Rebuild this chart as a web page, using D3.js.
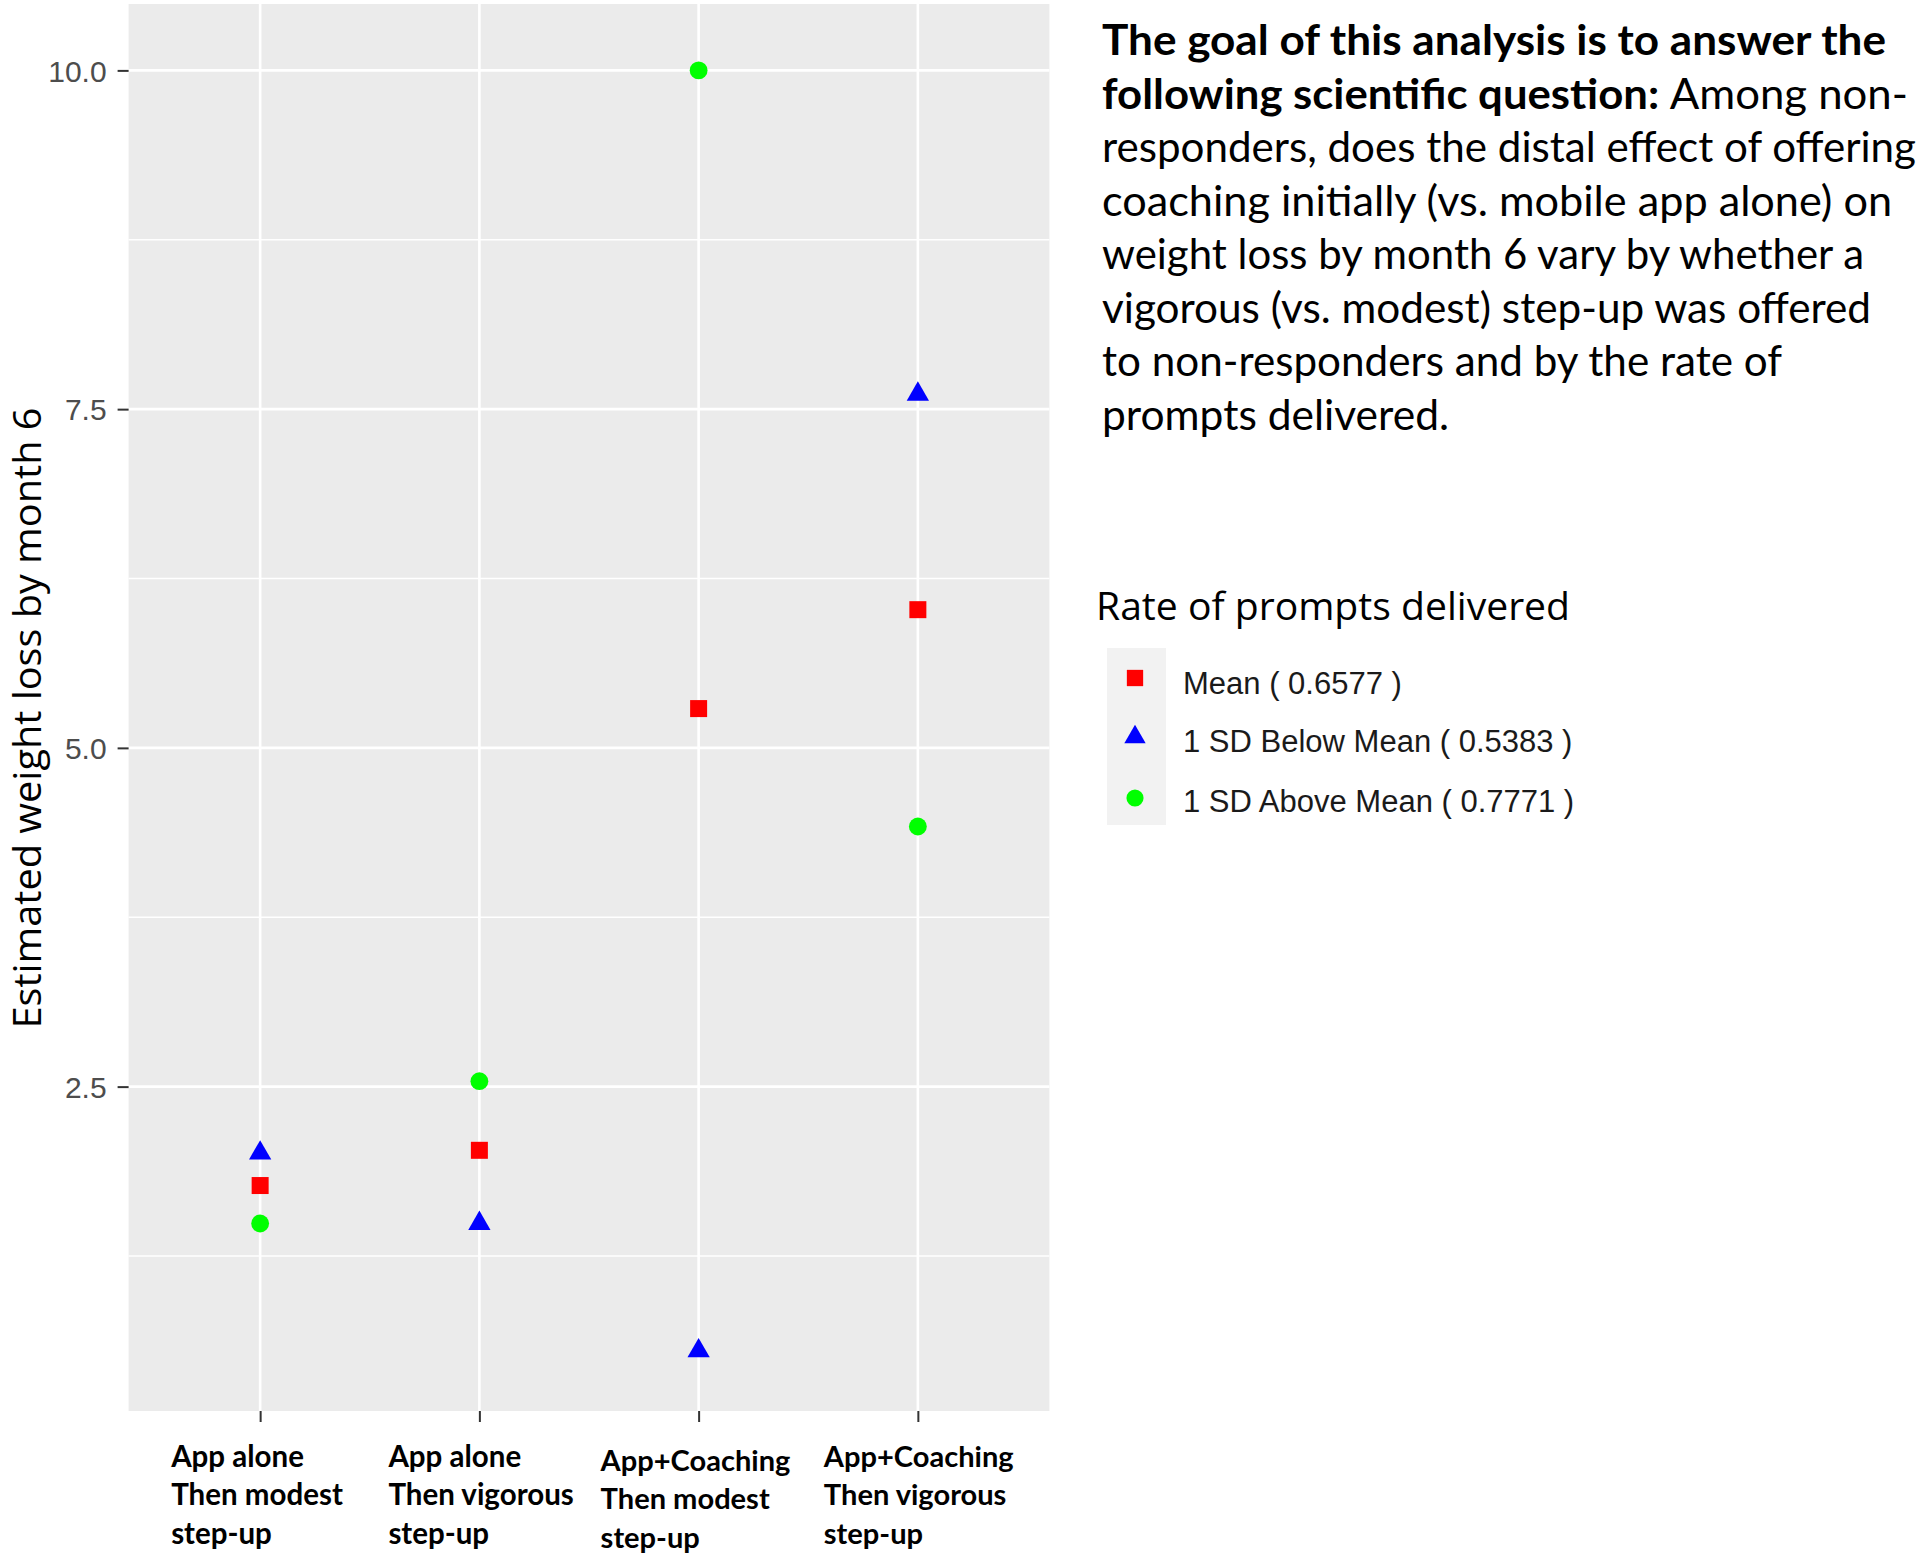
<!DOCTYPE html>
<html>
<head>
<meta charset="utf-8">
<script src="https://cdn.jsdelivr.net/npm/d3@7"></script>
<style>
  html, body { margin: 0; padding: 0; background: #ffffff; }
  svg { display: block; }
</style>
</head>
<body>
<svg id="chart" width="1920" height="1555"></svg>
<script>
// ---------------- DATA ----------------
const categories = ["A_mod", "A_vig", "C_mod", "C_vig"];
const categoryLabels = [
  ["App alone", "Then modest", "step-up"],
  ["App alone", "Then vigorous", "step-up"],
  ["App+Coaching", "Then modest", "step-up"],
  ["App+Coaching", "Then vigorous", "step-up"]
];
const seriesNames = ["Mean ( 0.6577 )", "1 SD Below Mean ( 0.5383 )", "1 SD Above Mean ( 0.7771 )"];
const meanValues  = [1.77, 2.03, 5.29, 6.02];
const belowValues = [2.01, 1.49, 0.55, 7.61];
const aboveValues = [1.49, 2.54, 10.00, 4.42];
const yTicks = [2.5, 5.0, 7.5, 10.0];
const yMinorTicks = [1.25, 3.75, 6.25, 8.75];
const yTitle = "Estimated weight loss by month 6";
const legendTitle = "Rate of prompts delivered";
const paragraphLines = [
  [{t: "The goal of this analysis is to answer the", b: true}],
  [{t: "following scientific question: ", b: true}, {t: "Among non-", b: false}],
  [{t: "responders, does the distal effect of offering", b: false}],
  [{t: "coaching initially (vs. mobile app alone) on", b: false}],
  [{t: "weight loss by month 6 vary by whether a", b: false}],
  [{t: "vigorous (vs. modest) step-up was offered", b: false}],
  [{t: "to non-responders and by the rate of", b: false}],
  [{t: "prompts delivered.", b: false}]
];

// ---------------- STYLE / LAYOUT ----------------
const series = [
  {name: seriesNames[0], values: meanValues,  color: "#FF0000", shape: d3.symbolSquare,   size: 289},
  {name: seriesNames[1], values: belowValues, color: "#0000FF", shape: d3.symbolTriangle, size: 215},
  {name: seriesNames[2], values: aboveValues, color: "#00FF00", shape: d3.symbolCircle,   size: 250}
];
const panel = {x0: 128.6, x1: 1049.4, y0: 4, y1: 1411};
const svg = d3.select("#chart");

const x = d3.scalePoint().domain(categories).range([panel.x0, panel.x1]).padding(0.6);
const y = d3.scaleLinear().domain([0.106, 10.49]).range([panel.y1, panel.y0]);

// panel background
svg.append("rect")
  .attr("x", panel.x0).attr("y", panel.y0)
  .attr("width", panel.x1 - panel.x0).attr("height", panel.y1 - panel.y0)
  .attr("fill", "#EBEBEB");

// minor grid
svg.append("g").selectAll("line").data(yMinorTicks).join("line")
  .attr("x1", panel.x0).attr("x2", panel.x1)
  .attr("y1", d => y(d)).attr("y2", d => y(d))
  .attr("stroke", "#FFFFFF").attr("stroke-width", 1.3);
// major grid
svg.append("g").selectAll("line").data(yTicks).join("line")
  .attr("x1", panel.x0).attr("x2", panel.x1)
  .attr("y1", d => y(d)).attr("y2", d => y(d))
  .attr("stroke", "#FFFFFF").attr("stroke-width", 2.6);
svg.append("g").selectAll("line").data(categories).join("line")
  .attr("x1", d => x(d)).attr("x2", d => x(d))
  .attr("y1", panel.y0).attr("y2", panel.y1)
  .attr("stroke", "#FFFFFF").attr("stroke-width", 2.6);

// y axis
const yAxis = svg.append("g")
  .attr("transform", `translate(${panel.x0},0)`)
  .call(d3.axisLeft(y).tickValues(yTicks).tickFormat(d3.format(".1f")).tickSize(11).tickPadding(11));
yAxis.select(".domain").remove();
yAxis.selectAll(".tick line").attr("stroke", "#333333").attr("stroke-width", 2);
yAxis.selectAll(".tick text")
  .attr("fill", "#4D4D4D")
  .attr("dy", "0.36em")
  .style("font-family", "'Liberation Sans', Arial, sans-serif")
  .style("font-size", "30px");

// x axis
const xAxis = svg.append("g")
  .attr("transform", `translate(0,${panel.y1})`)
  .call(d3.axisBottom(x).tickSize(11).tickFormat(""));
xAxis.select(".domain").remove();
xAxis.selectAll(".tick line").attr("stroke", "#333333").attr("stroke-width", 2);

// x category labels (multi-line, left aligned, bold)
const labelOffsets = [-89, -91, -98, -94];
const labelBaseY = [1467, 1467, 1471, 1467];
const labelWidthScale = [1, 1, 0.985, 0.985];
categories.forEach((c, i) => {
  const t = svg.append("text")
    .attr("x", x(c) + labelOffsets[i])
    .attr("y", labelBaseY[i])
    .style("font-family", "Lato, sans-serif")
    .style("font-weight", "bold")
    .style("font-size", (29.5 * labelWidthScale[i]) + "px")
    .attr("fill", "#000000");
  categoryLabels[i].forEach((ln, j) => {
    t.append("tspan").attr("x", x(c) + labelOffsets[i]).attr("y", labelBaseY[i] + j * 38.3).text(ln);
  });
});

// y title
svg.append("text")
  .attr("transform", `translate(41,718) rotate(-90)`)
  .attr("text-anchor", "middle")
  .style("font-family", "'Open Sans', sans-serif")
  .style("font-size", "39px")
  .attr("fill", "#000000")
  .attr("textLength", 621)
  .attr("lengthAdjust", "spacingAndGlyphs")
  .text(yTitle);

// points
series.forEach(s => {
  svg.append("g").selectAll("path").data(s.values).join("path")
    .attr("transform", (d, i) => `translate(${x(categories[i])},${y(d)})`)
    .attr("d", d3.symbol().type(s.shape).size(s.size)())
    .attr("fill", s.color);
});

// paragraph
const paraX = 1102;
const paraY0 = 55;
const paraStep = 53.5;
const paraWidths = [784, 806, 814, 790, 762, 769, 680, 347];
paragraphLines.forEach((line, i) => {
  const t = svg.append("text")
    .attr("x", paraX).attr("y", paraY0 + i * paraStep)
    .style("font-family", "Lato, sans-serif")
    .style("font-size", "42px")
    .attr("fill", "#000000")
    .attr("textLength", paraWidths[i])
    .attr("lengthAdjust", "spacingAndGlyphs");
  line.forEach(seg => {
    t.append("tspan").style("font-weight", seg.b ? "bold" : "normal").text(seg.t);
  });
});

// legend
svg.append("text")
  .attr("x", 1096).attr("y", 620)
  .style("font-family", "'Open Sans', sans-serif")
  .style("font-size", "39px")
  .attr("fill", "#000000")
  .attr("textLength", 474)
  .attr("lengthAdjust", "spacingAndGlyphs")
  .text(legendTitle);
svg.append("rect")
  .attr("x", 1107).attr("y", 648).attr("width", 59).attr("height", 177)
  .attr("fill", "#F2F2F2");
const legendKeyY = [678, 737, 798];
const legendTextY = [694, 752, 812];
series.forEach((s, i) => {
  svg.append("path")
    .attr("transform", `translate(1135,${legendKeyY[i]})`)
    .attr("d", d3.symbol().type(s.shape).size(s.size * 0.92)())
    .attr("fill", s.color);
  svg.append("text")
    .attr("x", 1183).attr("y", legendTextY[i])
    .style("font-family", "'Liberation Sans', Arial, sans-serif")
    .style("font-size", "31px")
    .attr("fill", "#1A1A1A")
    .text(s.name);
});
</script>
</body>
</html>
